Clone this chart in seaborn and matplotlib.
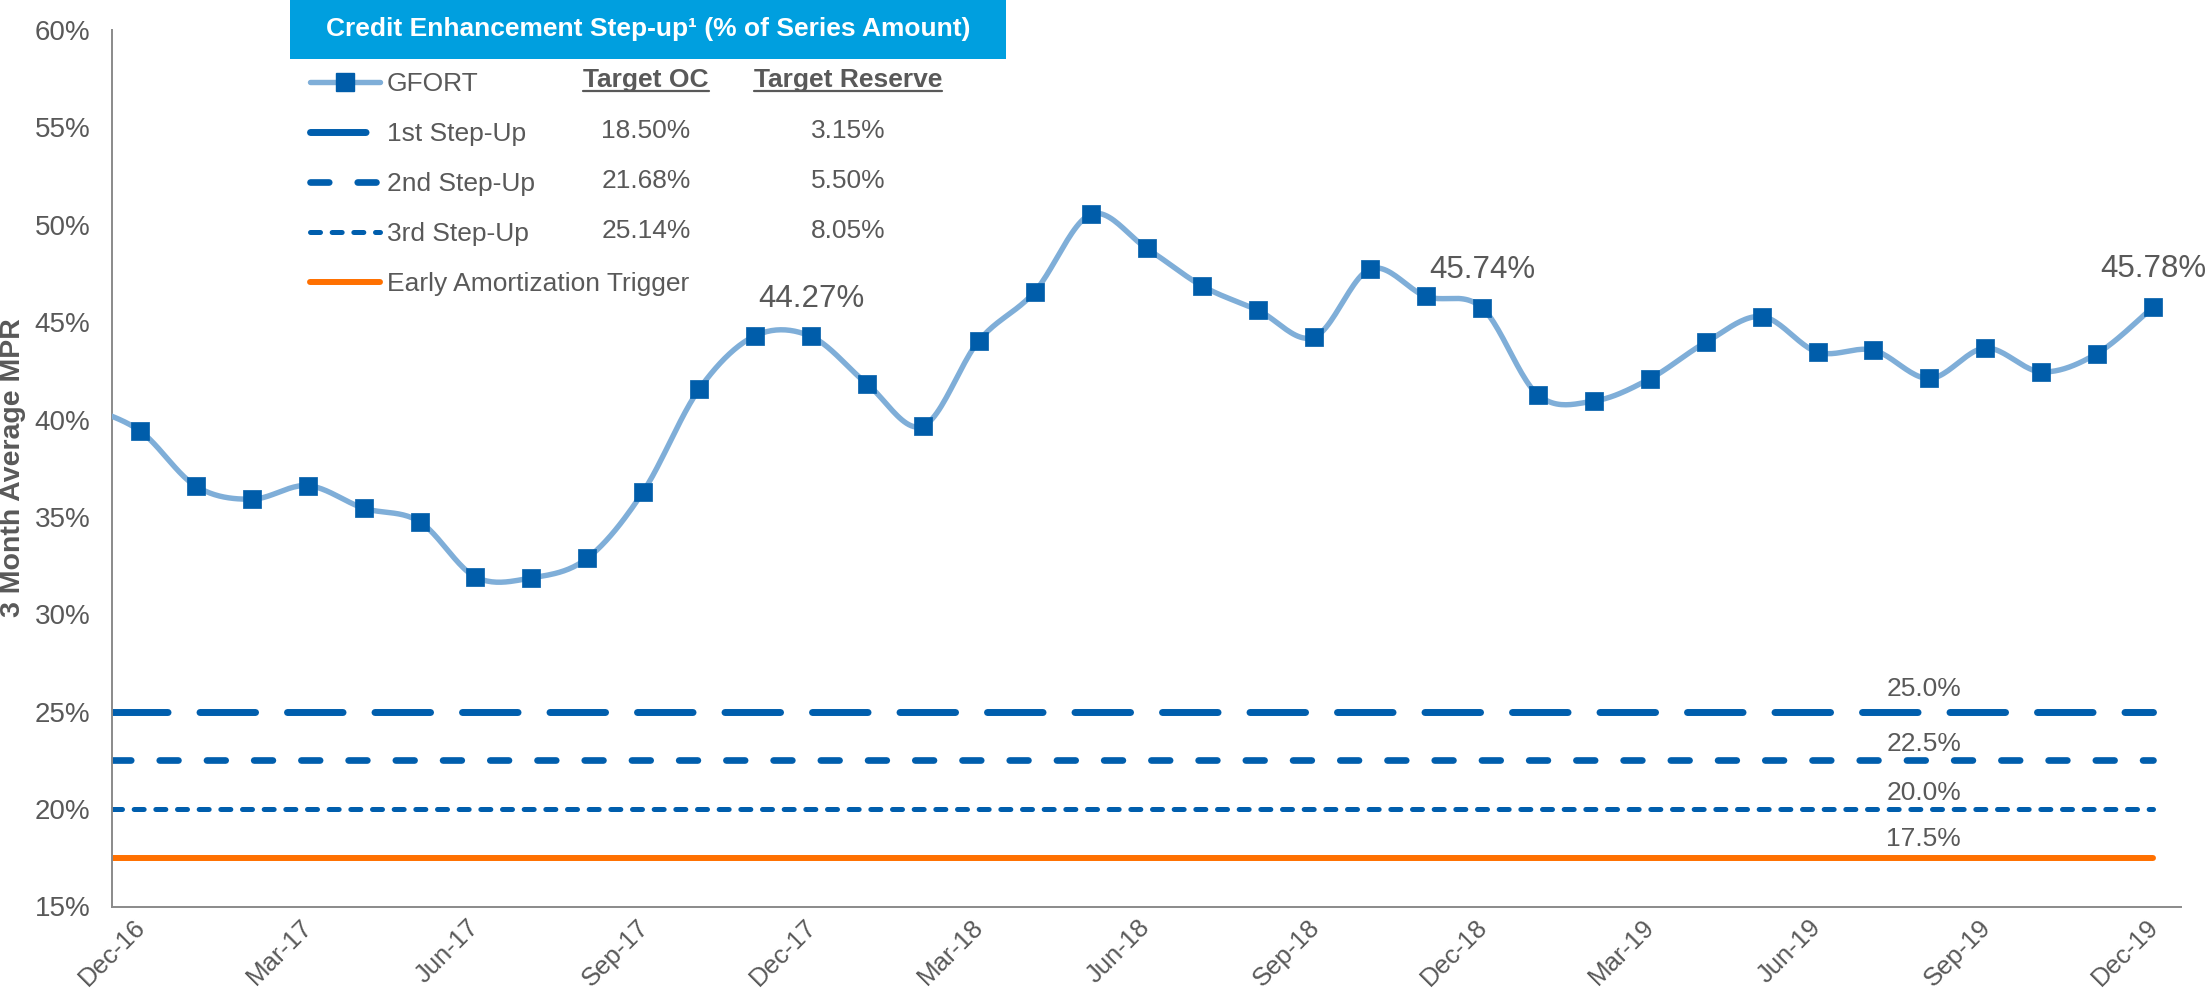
import numpy as np
import pandas as pd
import matplotlib
matplotlib.use("Agg")
import matplotlib.pyplot as plt
import seaborn as sns
from matplotlib.lines import Line2D
from matplotlib.patches import Rectangle

# ---------------------------------------------------------------- data
months = list(pd.date_range("2016-11-01", "2019-12-01", freq="MS").strftime("%b-%y"))

# 3-month average monthly payment rate (%), Nov-16 .. Dec-19
gfort_mpr = [
    40.70,                                                    # Nov-16
    39.42, 36.58, 35.91, 36.61, 35.45, 34.76, 31.92, 31.87,   # Dec-16 .. Jul-17
    32.88, 36.30, 41.56, 44.30, 44.27, 41.84, 39.66, 44.04,   # Aug-17 .. Mar-18
    46.56, 50.53, 48.80, 46.85, 45.60, 44.23, 47.73, 46.32,   # Apr-18 .. Nov-18
    45.74, 41.27, 40.95, 42.09, 43.96, 45.29, 43.46, 43.56,   # Dec-18 .. Jul-19
    42.11, 43.67, 42.45, 43.39, 45.78,                        # Aug-19 .. Dec-19
]
labelled_months = ["Dec-17", "Dec-18", "Dec-19"]

tick_labels = ["Dec-16", "Mar-17", "Jun-17", "Sep-17", "Dec-17", "Mar-18", "Jun-18",
               "Sep-18", "Dec-18", "Mar-19", "Jun-19", "Sep-19", "Dec-19"]

step_names = ["1st Step-Up", "2nd Step-Up", "3rd Step-Up"]
step_levels = [25.0, 22.5, 20.0]
trigger_name = "Early Amortization Trigger"
trigger_level = 17.5

target_oc = [18.50, 21.68, 25.14]
target_reserve = [3.15, 5.50, 8.05]

y_ticks = [15, 20, 25, 30, 35, 40, 45, 50, 55, 60]

# ---------------------------------------------------------------- style
GREY = "#595959"
AXIS_GREY = "#8A8A8A"
LINE_BLUE = "#7FAED8"
MARK_BLUE = "#005DAA"
STEP_BLUE = "#005EAD"
ORANGE = "#FF7000"
HEADER_BLUE = "#009FDF"

sns.set_theme(style="white")
plt.rcParams["font.family"] = ["Liberation Sans", "DejaVu Sans"]
plt.rcParams["lines.scale_dashes"] = False

W, H = 2208, 1000
fig = plt.figure(figsize=(W / 100, H / 100), dpi=100)
ax = fig.add_axes([112 / W, 1 - 906.5 / H, (2181 - 112) / W, (906.5 - 30) / H])

# month positions: each month sits in the middle of its slot, Dec-16 slot starts at 0
start = months.index("Dec-16")
xpos = np.arange(len(months)) - start + 0.5
yval = np.asarray(gfort_mpr, dtype=float)


def smooth_curve(x, y, n=24):
    """Catmull-Rom spline through the points (Excel-style smoothed line)."""
    px = np.r_[x[0], x, x[-1]]
    py = np.r_[y[0], y, y[-1]]
    t = np.linspace(0, 1, n, endpoint=False)
    xs, ys = [], []

    def seg(a, b, c, d):
        return 0.5 * (2 * b + (-a + c) * t + (2 * a - 5 * b + 4 * c - d) * t ** 2
                      + (-a + 3 * b - 3 * c + d) * t ** 3)

    for i in range(1, len(px) - 2):
        xs.append(seg(*px[i - 1:i + 3]))
        ys.append(seg(*py[i - 1:i + 3]))
    xs.append([x[-1]])
    ys.append([y[-1]])
    return np.concatenate(xs), np.concatenate(ys)


sx, sy = smooth_curve(xpos, yval)
sns.lineplot(x=sx, y=sy, sort=False, estimator=None, ax=ax, color=LINE_BLUE,
             linewidth=3.9, solid_capstyle="round", zorder=3)
sns.scatterplot(x=xpos, y=yval, ax=ax, marker="s", s=155, color=MARK_BLUE,
                edgecolor=MARK_BLUE, linewidth=0.5, zorder=4, clip_on=True)

# step-up and trigger levels
step_styles = [
    dict(linewidth=5.0, dashes=(40, 23)),
    dict(linewidth=4.8, dashes=(13.5, 20.5)),
    dict(linewidth=3.6, dashes=(7.2, 8.4)),
]
level_offsets = [16.5, 11.5, 11.5]
x_end = xpos[-1]
for lvl, sty, off in zip(step_levels, step_styles, level_offsets):
    ax.plot([0, x_end], [lvl, lvl], color=STEP_BLUE, dash_capstyle="round",
            solid_capstyle="round", zorder=2, **sty)
    ax.annotate(f"{lvl:.1f}%", (32.4, lvl), xytext=(0, off), textcoords="offset points",
                ha="center", va="center", fontsize=19, color=GREY)
ax.plot([0, x_end], [trigger_level, trigger_level], color=ORANGE, linewidth=4.3,
        solid_capstyle="round", zorder=2)
ax.annotate(f"{trigger_level:.1f}%", (32.4, trigger_level), xytext=(0, 13.5),
            textcoords="offset points", ha="center", va="center", fontsize=19, color=GREY)

# value call-outs
for m in labelled_months:
    i = months.index(m)
    ax.annotate(f"{gfort_mpr[i]:.2f}%", (xpos[i], yval[i]), xytext=(0, 27),
                textcoords="offset points", ha="center", va="center",
                fontsize=22.5, color=GREY, zorder=5)

# axes
ax.set_xlim(0, 37)
ax.set_ylim(15, 60)
ax.set_xticks(np.arange(len(tick_labels)) * 3)
ax.set_xticklabels(tick_labels, rotation=45, ha="center", fontsize=18.5, color=GREY)
ax.set_yticks(y_ticks)
ax.set_yticklabels([f"{v}%" for v in y_ticks], fontsize=20, color=GREY)
ax.tick_params(axis="y", direction="out", length=6.5, width=1.1, color=AXIS_GREY, pad=9)
ax.tick_params(axis="x", direction="out", length=5, width=1.1, color=AXIS_GREY, pad=1)
for side in ["top", "right"]:
    ax.spines[side].set_visible(False)
for side in ["left", "bottom"]:
    ax.spines[side].set_color(AXIS_GREY)
    ax.spines[side].set_linewidth(1.4)
ax.grid(False)
ax.set_xlabel("")
ax.set_ylabel("")
fig.text(13 / W, 1 - 468 / H, "3 Month Average MPR", rotation=90, ha="center", va="center",
         fontsize=20.5, fontweight="bold", color=GREY)

# header bar
fig.patches.append(Rectangle((290 / W, 1 - 59 / H), (1006 - 290) / W, 59 / H,
                             transform=fig.transFigure, facecolor=HEADER_BLUE,
                             edgecolor="none", zorder=0))
fig.text(648 / W, 1 - 29 / H, "Credit Enhancement Step-up¹ (% of Series Amount)",
         ha="center", va="center", fontsize=19, fontweight="bold", color="white")

# legend
handles = [
    Line2D([], [], color=LINE_BLUE, linewidth=3.9, marker="s", markersize=12.4,
           markerfacecolor=MARK_BLUE, markeredgecolor=MARK_BLUE),
]
for sty in step_styles:
    handles.append(Line2D([], [], color=STEP_BLUE, dash_capstyle="round",
                          solid_capstyle="round", **sty))
handles.append(Line2D([], [], color=ORANGE, linewidth=4.3, solid_capstyle="round"))
labels = ["GFORT"] + step_names + [trigger_name]
leg = fig.legend(handles, labels, loc="upper left",
                 bbox_to_anchor=(310 / W, 1 - 72 / H), bbox_transform=fig.transFigure,
                 frameon=False, fontsize=19, labelcolor=GREY, handlelength=2.65,
                 handletextpad=0.25, labelspacing=0.99, borderpad=0, borderaxespad=0,
                 numpoints=1)

fig.canvas.draw()
renderer = fig.canvas.get_renderer()
inv = fig.transFigure.inverted()
row_y = []
for t in leg.get_texts():
    bb = t.get_window_extent(renderer)
    row_y.append(inv.transform(((bb.x0 + bb.x1) / 2, (bb.y0 + bb.y1) / 2))[1])

col_x = [646 / W, 848 / W]
for cx, head in zip(col_x, ["Target OC", "Target Reserve"]):
    ht = fig.text(cx, row_y[0] + 4 / H, head, ha="center", va="center", fontsize=19,
                  fontweight="bold", color=GREY)
    fig.canvas.draw()
    bb = ht.get_window_extent(renderer)
    (x0, y0), (x1, _) = inv.transform([(bb.x0, bb.y0), (bb.x1, bb.y1)])
    fig.add_artist(Line2D([x0, x1], [y0 + 1 / H, y0 + 1 / H], transform=fig.transFigure,
                          color=GREY, linewidth=1.6))
for r, (oc, rs) in enumerate(zip(target_oc, target_reserve), start=1):
    fig.text(col_x[0], row_y[r] + 3 / H, f"{oc:.2f}%", ha="center", va="center",
             fontsize=19, color=GREY)
    fig.text(col_x[1], row_y[r] + 3 / H, f"{rs:.2f}%", ha="center", va="center",
             fontsize=19, color=GREY)

fig.savefig("out.png", dpi=100, facecolor="white")
